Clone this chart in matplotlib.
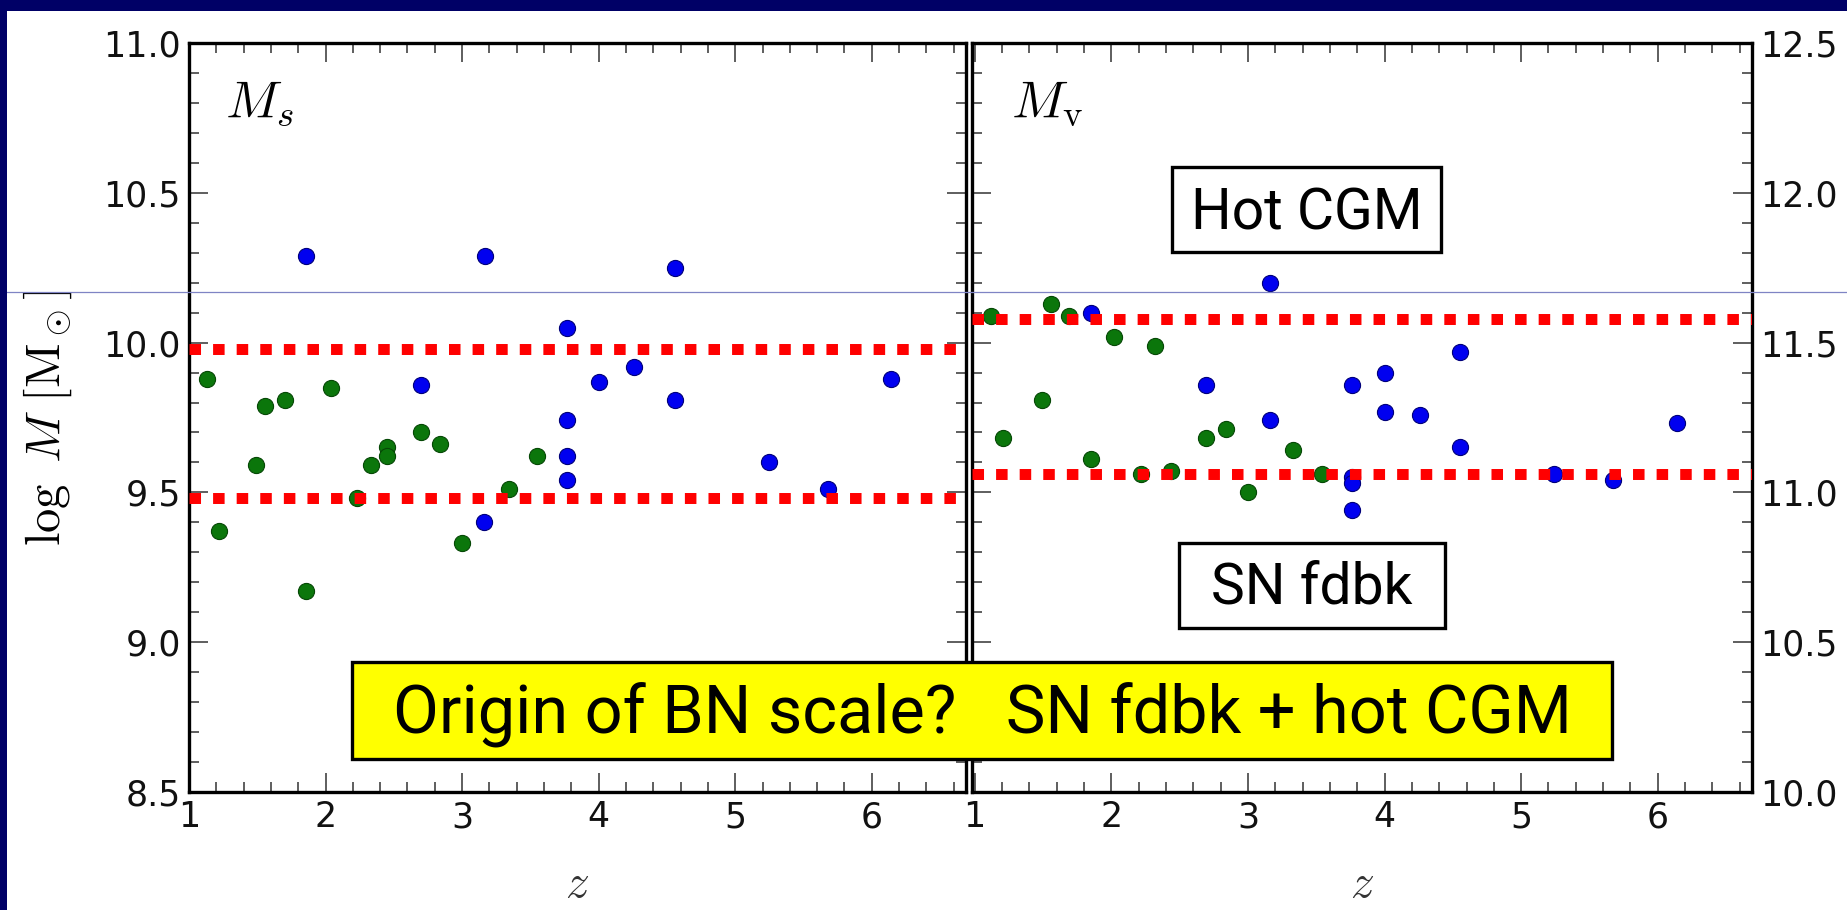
import matplotlib
matplotlib.use("Agg")
import matplotlib.pyplot as plt
from matplotlib.patches import Rectangle
from matplotlib.lines import Line2D
from matplotlib.ticker import MultipleLocator

#------------------------------------------------------------------------------
# data

# left panel: stellar mass
ms_blue_z = [1.86, 3.17, 3.77, 2.70, 3.77, 3.77, 3.77, 3.16, 4.00, 4.26, 4.56, 4.56, 6.14, 5.25, 5.68]
ms_blue_m = [10.29, 10.29, 10.05, 9.86, 9.74, 9.62, 9.54, 9.40, 9.87, 9.92, 10.25, 9.81, 9.88, 9.60, 9.51]
ms_green_z = [1.13, 1.56, 1.70, 2.04, 1.49, 2.33, 2.45, 2.45, 2.70, 2.84, 3.55, 3.34, 2.23, 1.22, 3.00, 1.86]
ms_green_m = [9.88, 9.79, 9.81, 9.85, 9.59, 9.59, 9.65, 9.62, 9.70, 9.66, 9.62, 9.51, 9.48, 9.37, 9.33, 9.17]
ms_levels = [9.98, 9.48]

# right panel: virial mass
mv_blue_z = [3.16, 1.85, 2.69, 3.76, 3.16, 3.76, 3.76, 3.76, 4.55, 4.00, 4.00, 4.26, 4.55, 6.14, 5.24, 5.67]
mv_blue_m = [11.70, 11.60, 11.36, 11.36, 11.24, 11.05, 11.03, 10.94, 11.47, 11.40, 11.27, 11.26, 11.15, 11.23, 11.06, 11.04]
mv_green_z = [1.12, 1.56, 1.69, 2.02, 2.32, 1.49, 1.21, 1.85, 2.22, 2.44, 2.69, 2.84, 3.33, 3.00, 3.54]
mv_green_m = [11.59, 11.63, 11.59, 11.52, 11.49, 11.31, 11.18, 11.11, 11.06, 11.07, 11.18, 11.21, 11.14, 11.00, 11.06]
mv_levels = [11.58, 11.06]

ms_ticks = [8.5, 9.0, 9.5, 10.0, 10.5, 11.0]
mv_ticks = [10.0, 10.5, 11.0, 11.5, 12.0, 12.5]
z_ticks = [1, 2, 3, 4, 5, 6]

#------------------------------------------------------------------------------

plt.rcParams['mathtext.fontset'] = 'cm'
plt.rcParams['font.family'] = ['DejaVu Sans']

W, H = 1847, 910
fig = plt.figure(figsize=(W / 100, H / 100), dpi=100)
fig.patch.set_facecolor('white')

def fx(px): return px / W
def fy(py): return 1 - py / H

axL = fig.add_axes([fx(189), fy(792), fx(777), 749 / H])
axR = fig.add_axes([fx(972), fy(792), fx(780), 749 / H])

def style(ax, ticks, ylim, xlim):
  ax.set_xlim(*xlim)
  ax.set_ylim(*ylim)
  ax.set_yticks(ticks)
  ax.set_xticks(z_ticks)
  ax.xaxis.set_minor_locator(MultipleLocator(0.2))
  ax.yaxis.set_minor_locator(MultipleLocator(0.1))
  ax.tick_params(which='both', direction='in', top=True, bottom=True,
                 left=True, right=True, color='#333333', width=1.1)
  ax.tick_params(which='major', length=14, pad=6, labelsize=25, labelcolor='#111111')
  ax.tick_params(which='minor', length=7)
  for s in ax.spines.values():
    s.set_linewidth(2.4)
    s.set_color('black')

def panel(ax, bz, bm, gz, gm, levels):
  ax.scatter(gz, gm, s=135, c='#0b760b', edgecolors='#064806', linewidths=0.8, zorder=3)
  ax.scatter(bz, bm, s=135, c='#0000f0', edgecolors='#00007a', linewidths=0.8, zorder=3)
  for y in levels:
    ax.axhline(y, color='red', lw=7.9, ls=(0, (1.05, 1.1)), zorder=4)

style(axL, ms_ticks, (8.5, 11.0), (1, 6.69))
style(axR, mv_ticks, (10.0, 12.5), (0.98, 6.69))
axR.tick_params(labelleft=False, labelright=True)

panel(axL, ms_blue_z, ms_blue_m, ms_green_z, ms_green_m, ms_levels)
panel(axR, mv_blue_z, mv_blue_m, mv_green_z, mv_green_m, mv_levels)

axL.text(0.046, 0.900, r'$M_s$', transform=axL.transAxes, fontsize=38, va='baseline')
axR.text(0.050, 0.900, r'$M_\mathrm{v}$', transform=axR.transAxes, fontsize=38, va='baseline')

axL.set_ylabel(r'$\log\ M\ [\mathrm{M}_\odot]$', fontsize=35)
axL.yaxis.set_label_coords(-0.148, 0.5)
for ax in (axL, axR):
  ax.set_xlabel(r'$z$', fontsize=34, color='#333333')
  ax.xaxis.set_label_coords(0.5, -0.093)

#------------------------------------------------------------------------------
# slide decorations

fig.add_artist(Rectangle((0, fy(11)), 1, 11 / H, transform=fig.transFigure,
                         facecolor='#000066', edgecolor='none', zorder=10))
fig.add_artist(Rectangle((0, 0), fx(7), 1, transform=fig.transFigure,
                         facecolor='#000066', edgecolor='none', zorder=10))
fig.add_artist(Line2D([fx(7), 1], [fy(292), fy(292)], transform=fig.transFigure,
                      color='#7f84c4', lw=0.9, zorder=9))

def box(x0, y0, x1, y1, text, size, base, face):
  fig.add_artist(Rectangle((fx(x0), fy(y1)), fx(x1 - x0), (y1 - y0) / H,
                           transform=fig.transFigure, facecolor=face,
                           edgecolor='black', lw=2.4, zorder=11))
  fig.text(fx((x0 + x1) / 2), fy(base), text, family='Roboto', fontsize=size,
           ha='center', va='baseline', zorder=12)

box(1172, 167, 1441, 252, 'Hot CGM', 41, 230, 'white')
box(1179, 543, 1445, 628, 'SN fdbk', 41, 604, 'white')
box(352, 662, 1612, 759, 'Origin of BN scale?   SN fdbk + hot CGM', 48, 733, '#ffff00')

#------------------------------------------------------------------------------

fig.savefig('out.png', dpi=100)
